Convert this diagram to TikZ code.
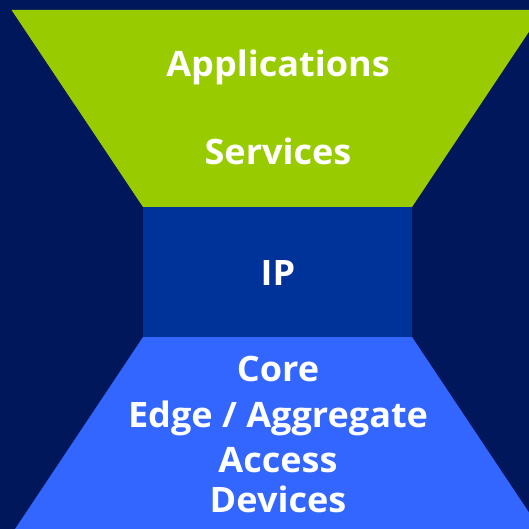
\documentclass[tikz,border=0pt]{standalone}
\usepackage{fontspec}
\setmainfont{Open Sans}
\definecolor{navy}{HTML}{00175C}
\definecolor{lime}{HTML}{99CC00}
\definecolor{ipblue}{HTML}{003399}
\definecolor{netblue}{HTML}{3366FF}
\begin{document}
\begin{tikzpicture}[x=1pt,y=-1pt,
  label/.style={text=white,font=\bfseries\fontsize{35}{35}\selectfont,anchor=base,inner sep=0pt,xscale=1.03}]
\useasboundingbox (0,0) rectangle (529,529);
\fill[navy] (0,0) rectangle (529,529);
\begin{scope}
\clip (0,0) rectangle (529,529);
% upper funnel: applications and services
\fill[lime] (11.5,10) -- (543.5,10) -- (412,207) -- (143,207) -- cycle;
% narrow waist: IP
\fill[ipblue] (143,207) rectangle (412,337);
% lower funnel: network layers
\fill[netblue] (143,337) -- (412,337) -- (540,529) -- (15,529) -- cycle;
\end{scope}
\node[label] (apps) at (278,77) {Applications};
\node[label] (svc) at (278,165) {Services};
\node[label] (ip) at (278,285) {IP};
\node[label] (core) at (278,381) {Core};
\node[label] (edge) at (278,427) {Edge / Aggregate};
\node[label] (access) at (278,472) {Access};
\node[label] (dev) at (278,512) {Devices};
\end{tikzpicture}
\end{document}
